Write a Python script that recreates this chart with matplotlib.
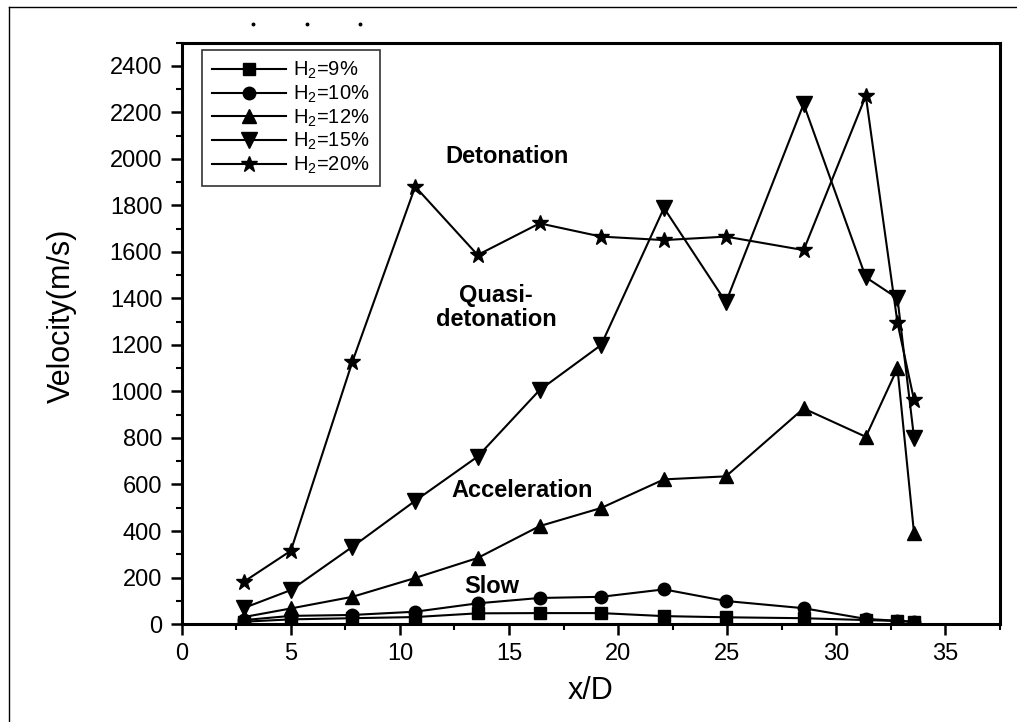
import numpy as np
import matplotlib
matplotlib.use('Agg')
import matplotlib.pyplot as plt
from matplotlib.lines import Line2D
from matplotlib.ticker import MultipleLocator

plt.rcParams['font.family'] = ['Liberation Sans', 'DejaVu Sans']
plt.rcParams['mathtext.fontset'] = 'custom'
plt.rcParams['mathtext.rm'] = 'Liberation Sans'
plt.rcParams['mathtext.it'] = 'Liberation Sans:italic'

# x/D positions of the measuring stations
x_d = [2.85, 5.0, 7.82, 10.7, 13.56, 16.4, 19.22, 22.1, 24.94, 28.5, 31.35, 32.8, 33.56]

# flame velocity (m/s) for each hydrogen concentration
v_h9 = [10, 20, 25, 30, 46, 47, 47, 34, 29, 25, 17, 13, 9]
v_h10 = [17, 35, 39, 53, 89, 112, 117, 149, 99, 68, 22, 14, 10]
v_h12 = [30, 67, 117, 198, 284, 421, 499, 622, 635, 927, 805, 1100, 390]
v_h15 = [69, 146, 332, 530, 720, 1006, 1200, 1789, 1384, 2236, 1491, 1401, 801]
v_h20 = [182, 315, 1128, 1881, 1587, 1723, 1666, 1651, 1666, 1608, 2271, 1296, 963]

labels = ['H$_2$=9%', 'H$_2$=10%', 'H$_2$=12%', 'H$_2$=15%', 'H$_2$=20%']
markers = ['s', 'o', '^', 'v', '*']
msizes = [8, 9, 10, 11, 12]
series = [v_h9, v_h10, v_h12, v_h15, v_h20]

# regime labels: (text, x, y)
regimes = [('Detonation', 14.9, 2010),
           ('Quasi-\ndetonation', 14.4, 1360),
           ('Acceleration', 15.6, 576),
           ('Slow', 14.2, 160)]

fig = plt.figure(figsize=(10.17, 7.22), dpi=100)
ax = fig.add_axes([0.1787, 0.1357, 0.8046, 0.8052])

for v, lab, m, ms in zip(series, labels, markers, msizes):
    ax.plot(x_d, v, color='black', lw=1.5, marker=m, markersize=ms,
            markerfacecolor='black', markeredgecolor='black', label=lab)

for txt, tx, ty in regimes:
    ax.text(tx, ty, txt, ha='center', va='center', fontsize=17,
            fontweight='bold', linespacing=1.05, multialignment='center')

ax.set_xlim(0, 37.5)
ax.set_ylim(0, 2500)
ax.xaxis.set_major_locator(MultipleLocator(5))
ax.xaxis.set_minor_locator(MultipleLocator(2.5))
ax.yaxis.set_major_locator(MultipleLocator(200))
ax.yaxis.set_minor_locator(MultipleLocator(100))
ax.yaxis.set_major_formatter(matplotlib.ticker.FuncFormatter(lambda v, p: '%d' % v if v <= 2400 else ''))

ax.tick_params(which='major', direction='out', length=8, width=1.8, labelsize=17, pad=6)
ax.tick_params(which='minor', direction='out', length=4.5, width=1.5)
ax.tick_params(top=False, right=False)
for s in ax.spines.values():
    s.set_linewidth(2.2)

ax.set_xlabel('x/D', fontsize=22)
ax.set_ylabel('Velocity(m/s)', fontsize=22)
ax.xaxis.set_label_coords(0.5, -0.09)
ax.yaxis.set_label_coords(-0.128, 0.53)

leg = ax.legend(loc='upper left', bbox_to_anchor=(0.0244, 0.9875), borderaxespad=0,
                fontsize=14.5, frameon=True, fancybox=False, handlelength=3.7,
                labelspacing=0.12, handletextpad=0.35, borderpad=0.5)
leg.get_frame().set_edgecolor('black')
leg.get_frame().set_linewidth(1.2)

# page border and stray dots from the scan
fig.add_artist(Line2D([9 / 1017, 9 / 1017], [0, 1 - 7 / 722], color='black', lw=1.0,
                      transform=fig.transFigure))
fig.add_artist(Line2D([9 / 1017, 1], [1 - 7 / 722, 1 - 7 / 722], color='black', lw=1.0,
                      transform=fig.transFigure))
for px in [253, 307, 360]:
    fig.add_artist(Line2D([px / 1017], [1 - 24 / 722], marker='o', markersize=1.8,
                          color='black', transform=fig.transFigure))

fig.savefig('out.png', dpi=100)
